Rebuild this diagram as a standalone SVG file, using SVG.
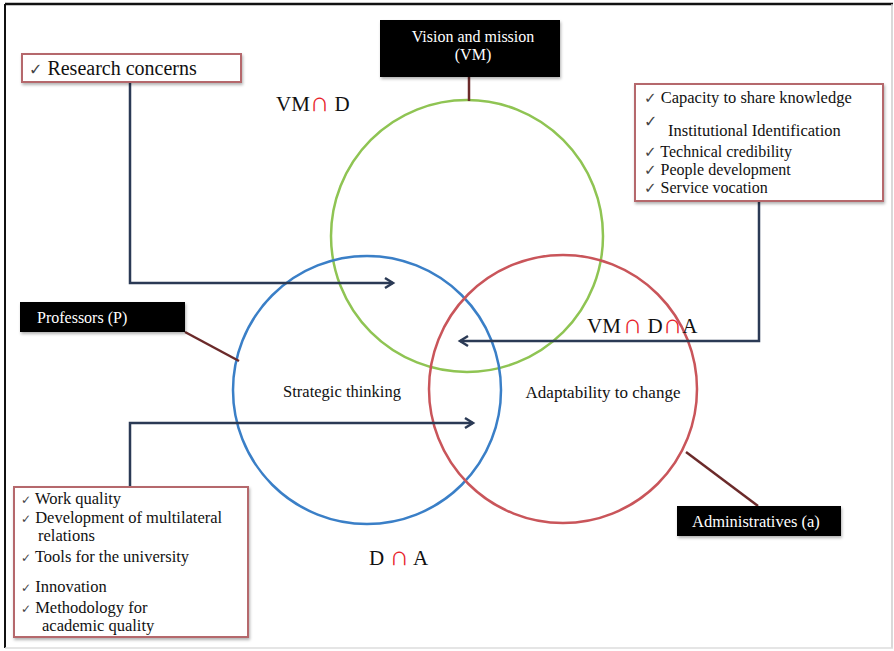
<svg xmlns="http://www.w3.org/2000/svg" width="894" height="651" viewBox="0 0 894 651">
<defs>
<style>
text{font-family:"Liberation Serif","Times New Roman",serif;fill:#111}
.w{fill:#fff}
.box{fill:#fff;stroke:#b5676c;stroke-width:2}
.blk{fill:#000}
.tie{stroke:#6b2a2a;stroke-width:2.5;fill:none}
.con{stroke:#2b3a55;stroke-width:2.5;fill:none}
.r{fill:#e8232a;font-size:27px}
.ck{font-family:"DejaVu Sans",sans-serif;fill:#444}
</style>
<marker id="ah" markerWidth="14" markerHeight="14" refX="11" refY="7" orient="auto" markerUnits="userSpaceOnUse">
<polyline points="3,2 11,7 3,12" fill="none" stroke="#2b3a55" stroke-width="2.5"/>
</marker>
<filter id="sh" x="-10%" y="-10%" width="120%" height="130%">
<feDropShadow dx="1" dy="2" stdDeviation="1.5" flood-color="#000" flood-opacity="0.3"/>
</filter>
</defs>
<rect x="0" y="0" width="894" height="651" fill="#fff"/>
<line x1="5" y1="4" x2="893" y2="4" stroke="#111" stroke-width="2.5"/>
<line x1="5" y1="4" x2="5" y2="648" stroke="#111" stroke-width="2"/>
<line x1="892" y1="4" x2="892" y2="648" stroke="#ccc" stroke-width="1.5"/>
<line x1="5" y1="648" x2="893" y2="648" stroke="#ddd" stroke-width="1.5"/>

<g id="circles" fill="none" stroke-width="2.5">
<circle cx="467" cy="236" r="136" stroke="#8fc453"/>
<circle cx="367" cy="390" r="134" stroke="#3a7fc7"/>
<circle cx="563" cy="389" r="134" stroke="#c9555a"/>
</g>

<g id="connectors">
<polyline class="con" points="130,82 130,283 393,283" marker-end="url(#ah)"/>
<polyline class="con" points="759,201 759,341 460,341" marker-end="url(#ah)"/>
<polyline class="con" points="130,487 130,423 473,423" marker-end="url(#ah)"/>
<line class="tie" x1="469" y1="77" x2="469" y2="101"/>
<line class="tie" x1="185" y1="332" x2="239" y2="361"/>
<line class="tie" x1="686" y1="452" x2="758" y2="506"/>
</g>

<g id="research">
<rect class="box" x="22" y="54" width="219" height="28" filter="url(#sh)"/>
<text x="29" y="75" font-size="20"><tspan class="ck" font-size="16">✓</tspan> Research concerns</text>
</g>

<g id="vision">
<rect class="blk" x="380" y="20" width="180" height="57" filter="url(#sh)"/>
<text class="w" x="473" y="42" font-size="16" text-anchor="middle">Vision and mission</text>
<text class="w" x="473" y="60" font-size="16" text-anchor="middle">(VM)</text>
</g>

<g id="values">
<rect class="box" x="635" y="84" width="248" height="117" filter="url(#sh)"/>
<text x="644" y="103" font-size="16.5"><tspan class="ck" font-size="15">✓</tspan> Capacity to share knowledge</text>
<text x="644" y="127" font-size="16" class="ck">✓</text>
<text x="668" y="136" font-size="16.5">Institutional Identification</text>
<text x="644" y="157" font-size="16"><tspan class="ck" font-size="15">✓</tspan> Technical credibility</text>
<text x="644" y="175" font-size="16"><tspan class="ck" font-size="15">✓</tspan> People development</text>
<text x="644" y="193" font-size="16"><tspan class="ck" font-size="15">✓</tspan> Service vocation</text>
</g>

<g id="professors">
<rect class="blk" x="20" y="302" width="165" height="30" filter="url(#sh)"/>
<text class="w" x="37" y="323" font-size="16">Professors (P)</text>
</g>

<g id="administratives">
<rect class="blk" x="677" y="506" width="164" height="30" filter="url(#sh)"/>
<text class="w" x="692" y="527" font-size="16.5">Administratives (a)</text>
</g>

<g id="quality">
<rect class="box" x="14" y="487" width="234" height="150" filter="url(#sh)"/>
<text x="21" y="504" font-size="16.5"><tspan class="ck" font-size="12">✓</tspan> Work quality</text>
<text x="21" y="523" font-size="16.5"><tspan class="ck" font-size="12">✓</tspan> Development of multilateral</text>
<text x="38" y="541" font-size="16.5">relations</text>
<text x="21" y="562" font-size="16.5"><tspan class="ck" font-size="12">✓</tspan>  Tools for the university</text>
<text x="21" y="592" font-size="16.5"><tspan class="ck" font-size="12">✓</tspan>  Innovation</text>
<text x="21" y="613" font-size="16.5"><tspan class="ck" font-size="12">✓</tspan>  Methodology for</text>
<text x="42" y="631" font-size="16.5">academic quality</text>
</g>

<g id="labels">
<text x="276" y="111" font-size="21">VM<tspan class="r">∩</tspan> D</text>
<text x="587" y="333" font-size="21">VM<tspan class="r" dx="2">∩</tspan> D<tspan class="r">∩</tspan>A</text>
<text x="369" y="565" font-size="21">D <tspan class="r">∩</tspan> A</text>
<text x="342" y="397" font-size="16.5" text-anchor="middle">Strategic thinking</text>
<text x="603" y="398" font-size="17" text-anchor="middle">Adaptability to change</text>
</g>
</svg>
